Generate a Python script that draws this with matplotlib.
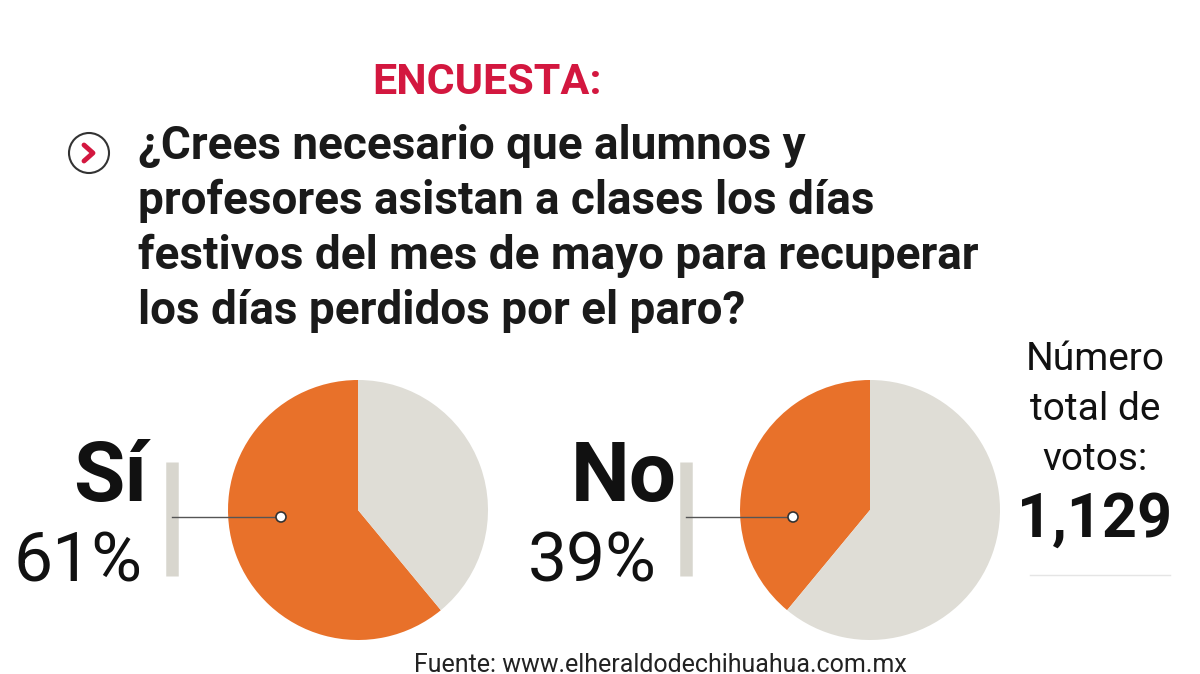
import matplotlib.pyplot as plt
from matplotlib.patches import Circle

labels = ["Sí", "No"]
pcts = [61, 39]
total_votes = "1,129"
question = ["¿Crees necesario que alumnos y",
            "profesores asistan a clases los días",
            "festivos del mes de mayo para recuperar",
            "los días perdidos por el paro?"]

W, H = 1200, 674
orange = "#E8712A"
grey = "#DFDDD6"
fig = plt.figure(figsize=(12, 6.74), dpi=100, facecolor="white")

def fx(px):
    return px / W

def fy(py):
    return 1 - py / H

fnt = "Roboto"
fig.text(fx(487), fy(82), "ENCUESTA:", color="#D3173F", fontsize=31, fontweight="bold",
         family=fnt, ha="center", va="center")
for i, line in enumerate(question):
    fig.text(fx(138), fy(146 + i * 55), line, fontsize=33, fontweight="bold",
             family=fnt, ha="left", va="center", color="#1a1a1a")

# icon
ax_bg = fig.add_axes([0, 0, 1, 1], facecolor="none")
ax_bg.set_xlim(0, W)
ax_bg.set_ylim(H, 0)
ax_bg.axis("off")
ax_bg.add_patch(Circle((89, 153), 20, facecolor="white", edgecolor="#333333", lw=1.5))
ax_bg.plot([84, 93, 84], [145, 153, 161], color="#D3173F", lw=3.5, solid_capstyle="round")

centers = [358, 870]
bar_x = [172, 686]
for k, (lab, p) in enumerate(zip(labels, pcts)):
    cx = centers[k]
    ax = fig.add_axes([fx(cx - 130), fy(510 + 130), fx(260), 260 / H])
    ax.pie([p, 100 - p], colors=[orange, grey], startangle=90, counterclock=True,
           wedgeprops=dict(linewidth=0))
    ax.set_xlim(-1, 1)
    ax.set_ylim(-1, 1)
    ax.set_aspect("equal")
    # connector
    bx = bar_x[k]
    ax_bg.plot([bx, bx], [462, 576], color="#D8D6CE", lw=9, solid_capstyle="butt", zorder=1)
    ax_bg.plot([bx, cx - 77], [517, 517], color="#555555", lw=1, zorder=1)
    dot = Circle((cx - 77, 517), 5, facecolor="white", edgecolor="#333333", lw=1.2, zorder=5)
    ax_bg.add_patch(dot)
    ax_bg.set_zorder(10)
    fig.text(fx(bx - 62), fy(478), lab, fontsize=60, fontweight="bold", family=fnt,
             ha="center", va="center", color="#111111")
    fig.text(fx(bx - 94), fy(563), f"{p}%", fontsize=50, fontweight="normal", family=fnt,
             ha="center", va="center", color="#111111")

for i, t in enumerate(["Número", "total de", "votos:"]):
    fig.text(fx(1095), fy(360 + i * 50), t, fontsize=28, family=fnt, ha="center",
             va="center", color="#111111")
fig.text(fx(1095), fy(520), total_votes, fontsize=44, fontweight="bold", family=fnt,
         ha="center", va="center", color="#111111")
ax_bg.plot([1030, 1170], [575, 575], color="#E5E5E5", lw=1)
fig.text(fx(660), fy(665), "Fuente: www.elheraldodechihuahua.com.mx", fontsize=18,
         family=fnt, ha="center", va="center", color="#222222")

fig.savefig("out.png", dpi=100, facecolor="white")
